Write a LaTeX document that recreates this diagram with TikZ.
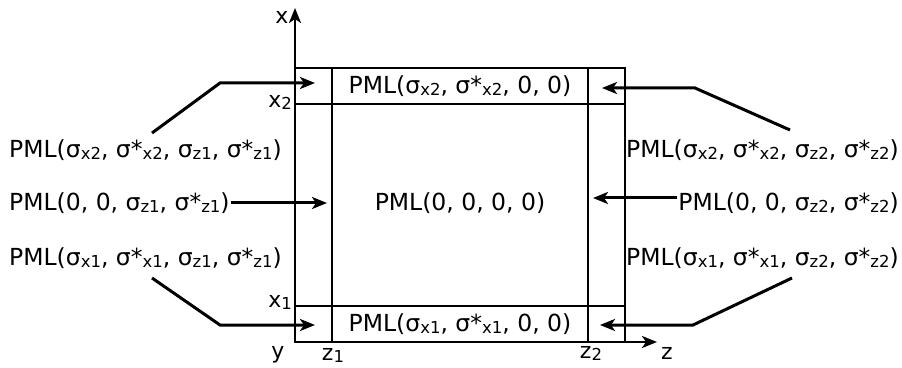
\documentclass[tikz,border=0pt]{standalone}
\usepackage{fontspec}
\setmainfont{DejaVu Sans}
\usetikzlibrary{arrows.meta,positioning}
\newcommand{\idx}[1]{\raisebox{-2pt}{\fontsize{16.5}{17}\selectfont #1}}

\begin{document}
\begin{tikzpicture}[
    x=1pt, y=1pt,
    lbl/.style={inner sep=1pt, font=\fontsize{23.5}{26}\selectfont},
    axlbl/.style={inner sep=1pt, font=\fontsize{22}{24}\selectfont},
    grid/.style={line width=1.5pt},
    axis/.style={line width=2.4pt, -{Stealth[length=15pt,width=12pt,inset=4pt]}},
    arrow/.style={line width=3pt, -{Stealth[length=15pt,width=12pt,inset=4pt]}}
  ]
    \useasboundingbox (0,0) rectangle (902,367);

    % domain and PML layers
    \coordinate (o) at (295,25);
    \draw[grid] (o) rectangle (625,299);
    \draw[grid] (332,25) -- (332,299);
    \draw[grid] (588,25) -- (588,299);
    \draw[grid] (295,263) -- (625,263);
    \draw[grid] (295,61) -- (625,61);
    \coordinate (xtip) at (295,359);
    \coordinate (ztip) at (657,25);
    \draw[axis] (o) -- (xtip);
    \draw[axis] (o) -- (ztip);

    \node[axlbl] (xl) at (282,350) {x};
    \node[axlbl] (zl) at (667,14) {z};
    \node[axlbl] (yl) at (278,12) {y};
    \node[axlbl] (z1) at (333,12) {z\idx{1}};
    \node[axlbl] (z2) at (591,14) {z\idx{2}};
    \node[axlbl, anchor=east] (x2) at (293,265) {x\idx{2}};
    \node[axlbl, anchor=east] (x1) at (293,65) {x\idx{1}};

    % region labels
    \node[lbl] (top) at (460,281) {PML(σ\idx{x2}, σ*\idx{x2}, 0, 0)};
    \node[lbl] (mid) at (460,164) {PML(0, 0, 0, 0)};
    \node[lbl] (bot) at (460,43) {PML(σ\idx{x1}, σ*\idx{x1}, 0, 0)};

    \node[lbl, anchor=west] (pmlTL) at (8,217) {PML(σ\idx{x2}, σ*\idx{x2}, σ\idx{z1}, σ*\idx{z1})};
    \node[lbl, anchor=west] (pmlML) at (8,164) {PML(0, 0, σ\idx{z1}, σ*\idx{z1})};
    \node[lbl, anchor=west] (pmlBL) at (8,109) {PML(σ\idx{x1}, σ*\idx{x1}, σ\idx{z1}, σ*\idx{z1})};
    \node[lbl, anchor=east] (pmlTR) at (900,217) {PML(σ\idx{x2}, σ*\idx{x2}, σ\idx{z2}, σ*\idx{z2})};
    \node[lbl, anchor=east] (pmlMR) at (900,164) {PML(0, 0, σ\idx{z2}, σ*\idx{z2})};
    \node[lbl, anchor=east] (pmlBR) at (900,109) {PML(σ\idx{x1}, σ*\idx{x1}, σ\idx{z2}, σ*\idx{z2})};

    % corner and side cells
    \coordinate (tlStart) at (152,234);
    \coordinate (trStart) at (790,237);
    \coordinate (blStart) at (152,89);
    \coordinate (brStart) at (792,89);
    \coordinate (tlBend) at (220,284);
    \coordinate (trBend) at (695,279);
    \coordinate (blBend) at (220,42);
    \coordinate (brBend) at (693,42);
    \coordinate (tlTip) at (315,284);
    \coordinate (trTip) at (602,279);
    \coordinate (mlTip) at (327,164);
    \coordinate (mrTip) at (593,169);
    \coordinate (blTip) at (315,42);
    \coordinate (brTip) at (600,42);

    \draw[arrow] (tlStart) -- (tlBend) -- (tlTip);
    \draw[arrow] (trStart) -- (trBend) -- (trTip);
    \draw[arrow] (pmlML.east) -- (mlTip);
    \draw[arrow] (pmlMR.west |- mrTip) -- (mrTip);
    \draw[arrow] (blStart) -- (blBend) -- (blTip);
    \draw[arrow] (brStart) -- (brBend) -- (brTip);
  \end{tikzpicture}
\end{document}
